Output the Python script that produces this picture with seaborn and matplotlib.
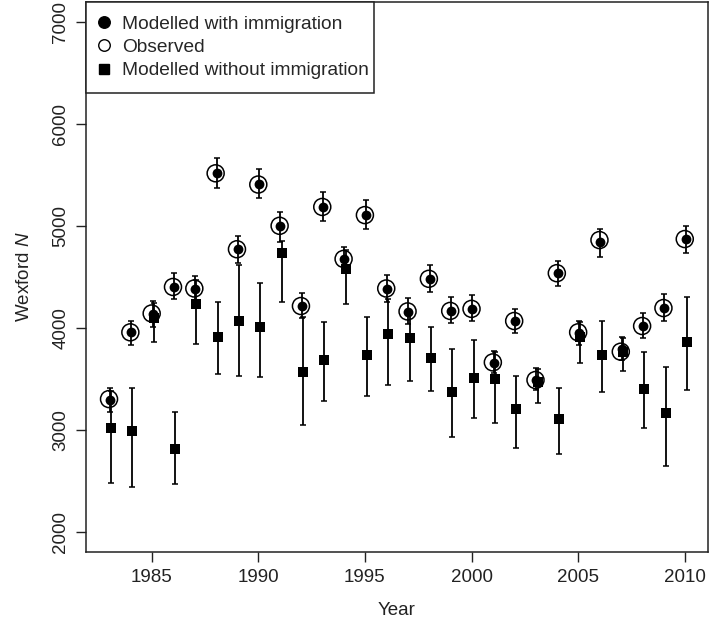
import numpy as np
import pandas as pd
import seaborn as sns
import matplotlib.pyplot as plt
from matplotlib.lines import Line2D

years = list(range(1983, 2011))

# modelled with immigration: mean, lower, upper
with_mean = [3291, 3955, 4132, 4403, 4380, 5515, 4770, 5410, 4998, 4213, 5188, 4671, 5106, 4380,
             4157, 4481, 4167, 4186, 3657, 4066, 3487, 4537, 3948, 4838, 3788, 4017, 4193, 4870]
with_lo = [3176, 3830, 4010, 4279, 4255, 5368, 4632, 5270, 4845, 4100, 5050, 4540, 4969, 4255,
           4034, 4348, 4043, 4066, 3553, 3945, 3389, 4410, 3830, 4697, 3683, 3896, 4069, 4730]
with_hi = [3411, 4066, 4262, 4534, 4507, 5662, 4900, 5557, 5132, 4338, 5329, 4795, 5253, 4517,
           4288, 4616, 4298, 4318, 3774, 4183, 3608, 4659, 4068, 4969, 3912, 4148, 4328, 5001]

observed = [3300, 3955, 4140, 4400, 4385, 5515, 4770, 5405, 5000, 4213, 5185, 4675, 5105, 4385,
            4160, 4480, 4165, 4185, 3660, 4066, 3487, 4535, 3955, 4860, 3765, 4017, 4193, 4870]

# modelled without immigration: mean, lower, upper
without_mean = [3013, 2986, 4092, 2813, 4233, 3905, 4064, 4007, 4736, 3565, 3683, 4576, 3729, 3942,
                3899, 3706, 3373, 3506, 3500, 3205, 3470, 3101, 3905, 3729, 3765, 3395, 3166, 3860]
without_lo = [2479, 2440, 3862, 2463, 3836, 3543, 3526, 3520, 4249, 3045, 3280, 4233, 3330, 3438,
              3480, 3382, 2931, 3111, 3068, 2822, 3264, 2760, 3657, 3372, 3575, 3013, 2643, 3389]
without_hi = [3380, 3411, 4240, 3176, 4470, 4255, 4620, 4436, 4850, 4108, 4059, 4760, 4102, 4280,
              4150, 4010, 3789, 3877, 3760, 3530, 3600, 3411, 4060, 4066, 3900, 3759, 3617, 4304]

df = pd.DataFrame({
    "year": years,
    "with_mean": with_mean, "with_lo": with_lo, "with_hi": with_hi,
    "observed": observed,
    "without_mean": without_mean, "without_lo": without_lo, "without_hi": without_hi,
})
df["x_with"] = df["year"] + 0.04
df["x_without"] = df["year"] + 0.1

sns.set_theme(style="ticks")
plt.rcParams["font.family"] = ["Liberation Sans", "DejaVu Sans"]
plt.rcParams["mathtext.fontset"] = "custom"
plt.rcParams["mathtext.it"] = "Liberation Sans:italic"
plt.rcParams["mathtext.rm"] = "Liberation Sans"

fig = plt.figure(figsize=(7.09, 6.23), dpi=100)
ax = fig.add_axes([0.1213, 0.114, 0.877, 0.8835])

ebkw = dict(fmt="none", ecolor="black", elinewidth=1.3, capsize=2.2, capthick=1.1, zorder=2)
ax.errorbar(df["x_without"], df["without_mean"],
            yerr=[df["without_mean"] - df["without_lo"], df["without_hi"] - df["without_mean"]], **ebkw)
ax.errorbar(df["x_with"], df["with_mean"],
            yerr=[df["with_mean"] - df["with_lo"], df["with_hi"] - df["with_mean"]], **ebkw)

sns.scatterplot(data=df, x="x_without", y="without_mean", marker="s", s=42, color="black",
                edgecolor="black", linewidth=0, ax=ax, zorder=3)
sns.scatterplot(data=df, x="year", y="observed", marker="o", s=150, facecolor="none",
                edgecolor="black", linewidth=1.1, ax=ax, zorder=3)
sns.scatterplot(data=df, x="x_with", y="with_mean", marker="o", s=50, color="black",
                edgecolor="black", linewidth=0, ax=ax, zorder=4)

ax.set_xlim(1981.92, 2011.08)
ax.set_ylim(1800, 7200)
ax.set_xticks([1985, 1990, 1995, 2000, 2005, 2010])
ax.set_yticks([2000, 3000, 4000, 5000, 6000, 7000])
ax.tick_params(axis="both", direction="out", length=7, width=1, colors="#222222",
               labelsize=13.5, labelcolor="#222222", pad=5)
for lab in ax.get_yticklabels():
    lab.set_rotation(90)
    lab.set_va("center")
for sp in ax.spines.values():
    sp.set_visible(True)
    sp.set_linewidth(1.1)
    sp.set_color("#222222")

ax.set_xlabel("Year", fontsize=13.5, color="#222222", labelpad=12)
ax.set_ylabel("Wexford $\\it{N}$", fontsize=13.5, color="#222222", labelpad=14)

handles = [
    Line2D([], [], linestyle="none", marker="o", markersize=8.3, color="black"),
    Line2D([], [], linestyle="none", marker="o", markersize=8.3, markerfacecolor="none",
           markeredgecolor="black", markeredgewidth=1.0),
    Line2D([], [], linestyle="none", marker="s", markersize=6.5, color="black"),
]
leg = ax.legend(handles, ["Modelled with immigration", "Observed", "Modelled without immigration"],
                loc="upper left", bbox_to_anchor=(0, 0, 0.463, 1), mode="expand",
                borderaxespad=0, fancybox=False, framealpha=1,
                edgecolor="#222222", fontsize=13.8, handletextpad=0.71, handlelength=0.46,
                borderpad=0.71, labelspacing=0.31)
leg.get_frame().set_linewidth(1.1)

fig.savefig("out.png", dpi=100)
